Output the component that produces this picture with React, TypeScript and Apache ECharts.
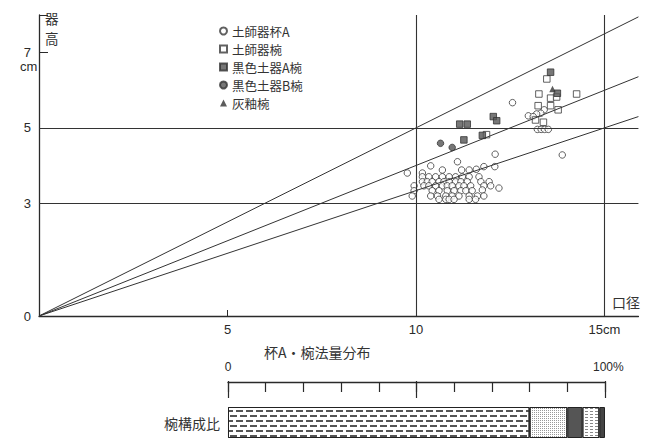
import React, { useEffect, useRef } from "react";
import * as echarts from "echarts";

// 土師器杯A (口径 cm, 器高 cm)
const cupA: [number, number][] = [
  [9.77, 3.8], [10.39, 3.99], [11.1, 4.1], [12.1, 4.3], [12.09, 3.97], [11.8, 3.97],
  [11.6, 3.9], [11.41, 3.88], [11.21, 3.88], [10.7, 3.88], [10.17, 3.8],
  [10.17, 3.7], [10.34, 3.7], [10.52, 3.7], [10.7, 3.7], [10.88, 3.7], [11.05, 3.7], [11.23, 3.7], [11.41, 3.7], [11.67, 3.7],
  [10.17, 3.57], [10.3, 3.57], [10.43, 3.57], [10.61, 3.57], [10.74, 3.57], [10.88, 3.57], [11.05, 3.57], [11.19, 3.57], [11.36, 3.57], [11.72, 3.57], [11.94, 3.57],
  [9.95, 3.46], [10.21, 3.46], [10.34, 3.46], [10.52, 3.46], [10.7, 3.46], [10.83, 3.46], [10.96, 3.46], [11.14, 3.46], [11.27, 3.46], [11.45, 3.46], [11.8, 3.46], [11.98, 3.46],
  [12.2, 3.4],
  [9.95, 3.33], [10.43, 3.33], [10.61, 3.33], [10.83, 3.33], [11.01, 3.33], [11.19, 3.33], [11.32, 3.33], [11.49, 3.33], [11.76, 3.35],
  [9.9, 3.19], [10.39, 3.19], [10.57, 3.19], [10.79, 3.19], [10.96, 3.19], [11.14, 3.19], [11.41, 3.19], [11.63, 3.19], [11.8, 3.19],
  [10.61, 3.1], [10.79, 3.1], [10.88, 3.1], [11.01, 3.1], [11.41, 3.1], [11.58, 3.1],
  [13.88, 4.28], [12.56, 5.67], [13.4, 5.48], [13.31, 5.39], [13.2, 5.37], [12.98, 5.32], [13.11, 5.3],
  [13.22, 4.96], [13.32, 4.96], [13.41, 4.96], [13.51, 4.96],
];
// 土師器椀
const bowlHaji: [number, number][] = [
  [13.47, 6.3], [13.26, 5.9], [13.57, 5.79], [13.73, 5.82], [14.26, 5.9], [13.24, 5.59],
  [13.57, 5.59], [13.77, 5.48], [13.17, 5.21], [13.38, 5.15], [11.87, 4.82],
];
// 黒色土器A椀
const bowlBlackA: [number, number][] = [
  [11.16, 5.1], [11.36, 5.1], [12.05, 5.3], [12.14, 5.19], [11.27, 4.68], [11.76, 4.8], [13.57, 6.48], [13.75, 5.92],
];
// 黒色土器B椀
const bowlBlackB: [number, number][] = [[10.65, 4.59], [10.96, 4.48]];
// 灰釉椀
const bowlAsh: [number, number][] = [[13.62, 6.03]];

const slopes = [1 / 2, 2 / 5, 1 / 3];
const gridXValues = [10, 15];
const gridYValues = [3, 5];
const xTickLabels = [5, 10, 15];
const yTickLabels = [0, 3, 5, 7];
const X_MAX = 15.9;
const Y_MAX = 8;

// 椀構成比 (%)
const compNames = ["a", "b", "c", "d", "e"];
const compValues = [80, 10, 4, 4.5, 1.5];

const CJK = "Noto Sans CJK JP";
const SANS = "Liberation Sans";
const INK = "#2a2a2a";

export default function App() {
  const ref = useRef<HTMLDivElement>(null);
  useEffect(() => {
    if (!ref.current) return;
    const chart = echarts.init(ref.current, undefined, { renderer: "svg" });

    const hollow = { color: "#fff", borderColor: "#3a3a3a", borderWidth: 1 };
    const filled = { color: "#555", borderColor: "#333", borderWidth: 1 };

    const decals = [
      { symbol: "rect", symbolSize: 1, color: "#555", backgroundColor: "#fff", dashArrayX: [[7, 3], [3, 3, 4, 0]], dashArrayY: [1.5, 3] },
      { symbol: "rect", symbolSize: 1, color: "#999", backgroundColor: "#fff", dashArrayX: [1, 1], dashArrayY: [1, 1] },
      null,
      { symbol: "rect", symbolSize: 1, color: "#888", backgroundColor: "#fff", dashArrayX: [[3, 2]], dashArrayY: [1, 2] },
      null,
    ];
    const segColors = ["#fff", "#fff", "#555", "#fff", "#444"];

    chart.setOption({
      animation: false,
      backgroundColor: "#fff",
      grid: [
        { left: 39, top: 15, width: X_MAX * 37.7, height: 301 },
        { left: 228, top: 381, width: 377, height: 1 },
        { left: 228, top: 407, width: 377, height: 31 },
      ],
      legend: {
        orient: "vertical",
        left: 214,
        top: 17,
        itemWidth: 7,
        itemHeight: 7,
        itemGap: 0,
        textStyle: { fontFamily: CJK, fontSize: 12.5, color: "#333", lineHeight: 18 },
        data: ["土師器杯A", "土師器椀", "黒色土器A椀", "黒色土器B椀", "灰釉椀"],
      },
      xAxis: [
        {
          gridIndex: 0, type: "value", min: 0, max: X_MAX, interval: 5,
          axisLine: { show: true, lineStyle: { color: INK, width: 1.3 } },
          axisTick: { show: true, inside: true, length: 6, lineStyle: { color: INK } },
          axisLabel: {
            fontFamily: SANS, fontSize: 13, color: INK, margin: 7, showMaxLabel: false,
            formatter: (v: number) => (xTickLabels.includes(v) ? (v === 15 ? "15cm" : String(v)) : ""),
          },
          splitLine: { show: false },
        },
        {
          gridIndex: 1, type: "value", min: 0, max: 100, interval: 10, position: "top",
          axisLine: { show: true, lineStyle: { color: INK, width: 1.3 } },
          axisTick: { show: true, inside: true, length: 10, lineStyle: { color: INK, width: 1.2 } },
          axisLabel: {
            fontFamily: SANS, fontSize: 12, color: INK, margin: 8,
            formatter: (v: number) => (v === 100 ? "  100%" : v === 0 ? "0" : ""),
          },
          splitLine: { show: false },
        },
        {
          gridIndex: 1, type: "value", min: 0, max: 100, interval: 50, position: "top",
          axisLine: { show: false },
          axisTick: { show: true, inside: true, length: 17, lineStyle: { color: INK, width: 1.2 } },
          axisLabel: { show: false },
          splitLine: { show: false },
        },
        {
          gridIndex: 2, type: "value", min: 0, max: 100, show: false,
        },
      ],
      yAxis: [
        {
          gridIndex: 0, type: "value", min: 0, max: Y_MAX, interval: 1,
          axisLine: { show: true, lineStyle: { color: INK, width: 1.3 } },
          axisTick: { show: false },
          axisLabel: {
            fontFamily: SANS, fontSize: 13, color: INK, margin: 8,
            formatter: (v: number) => (yTickLabels.includes(v) ? String(v) : ""),
          },
          splitLine: { show: false },
        },
        {
          gridIndex: 0, type: "value", min: 0, max: Y_MAX, interval: 7, position: "left",
          axisLine: { show: false },
          axisTick: { show: true, inside: true, length: 9, lineStyle: { color: INK } },
          axisLabel: { show: false },
          splitLine: { show: false },
        },
        {
          gridIndex: 1, type: "value", show: false,
        },
        {
          gridIndex: 2, type: "category", data: ["椀構成比"],
          axisLine: { show: false }, axisTick: { show: false },
          axisLabel: { fontFamily: CJK, fontSize: 14, color: "#333", margin: 8 },
        },
      ],
      series: [
        ...slopes.map((s, i) => ({
          name: "line" + i,
          type: "line",
          xAxisIndex: 0, yAxisIndex: 0,
          data: [[0, 0], [X_MAX, s * X_MAX]],
          showSymbol: false, symbol: "none",
          lineStyle: { color: "#333", width: 1 },
          silent: true,
        })),
        {
          name: "土師器杯A", type: "scatter", xAxisIndex: 0, yAxisIndex: 0,
          symbol: "circle", symbolSize: 6.5, itemStyle: hollow, data: cupA,
          markLine: {
            silent: true, symbol: "none", label: { show: false },
            lineStyle: { color: "#333", width: 1.1, type: "solid" },
            data: [...gridXValues.map((v) => ({ xAxis: v })), ...gridYValues.map((v) => ({ yAxis: v }))],
          },
        },
        {
          name: "土師器椀", type: "scatter", xAxisIndex: 0, yAxisIndex: 0,
          symbol: "rect", symbolSize: 6.5, itemStyle: hollow, data: bowlHaji,
        },
        {
          name: "黒色土器A椀", type: "scatter", xAxisIndex: 0, yAxisIndex: 0,
          symbol: "rect", symbolSize: 6.5, itemStyle: filled, data: bowlBlackA,
        },
        {
          name: "黒色土器B椀", type: "scatter", xAxisIndex: 0, yAxisIndex: 0,
          symbol: "circle", symbolSize: 6.5, itemStyle: filled, data: bowlBlackB,
        },
        {
          name: "灰釉椀", type: "scatter", xAxisIndex: 0, yAxisIndex: 0,
          symbol: "triangle", symbolSize: 6.5, itemStyle: { color: "#333" }, data: bowlAsh,
        },
        ...compValues.map((v, i) => ({
          name: compNames[i], type: "bar", xAxisIndex: 3, yAxisIndex: 3,
          stack: "comp", barWidth: "100%", data: [v], silent: true,
          itemStyle: {
            color: segColors[i], borderColor: "#222", borderWidth: 1,
            ...(decals[i] ? { decal: decals[i] } : {}),
          },
        })),
      ],
      graphic: [
        { type: "text", left: 45, top: 11, style: { text: "器", font: `13.5px '${CJK}'`, fill: "#333" } },
        { type: "text", left: 45, top: 31, style: { text: "高", font: `13.5px '${CJK}'`, fill: "#333" } },
        { type: "text", left: 20, top: 60, style: { text: "cm", font: `13px '${SANS}'`, fill: INK } },
        { type: "text", left: 612, top: 295, style: { text: "口径", font: `14px '${CJK}'`, fill: "#333" } },
        { type: "text", left: 264, top: 345, style: { text: "杯A・椀法量分布", font: `14px '${CJK}'`, fill: "#333" } },
      ],
    });
    return () => chart.dispose();
  }, []);
  return <div ref={ref} style={{ position: "fixed", left: 0, top: 0, width: 646, height: 445 }} />;
}
